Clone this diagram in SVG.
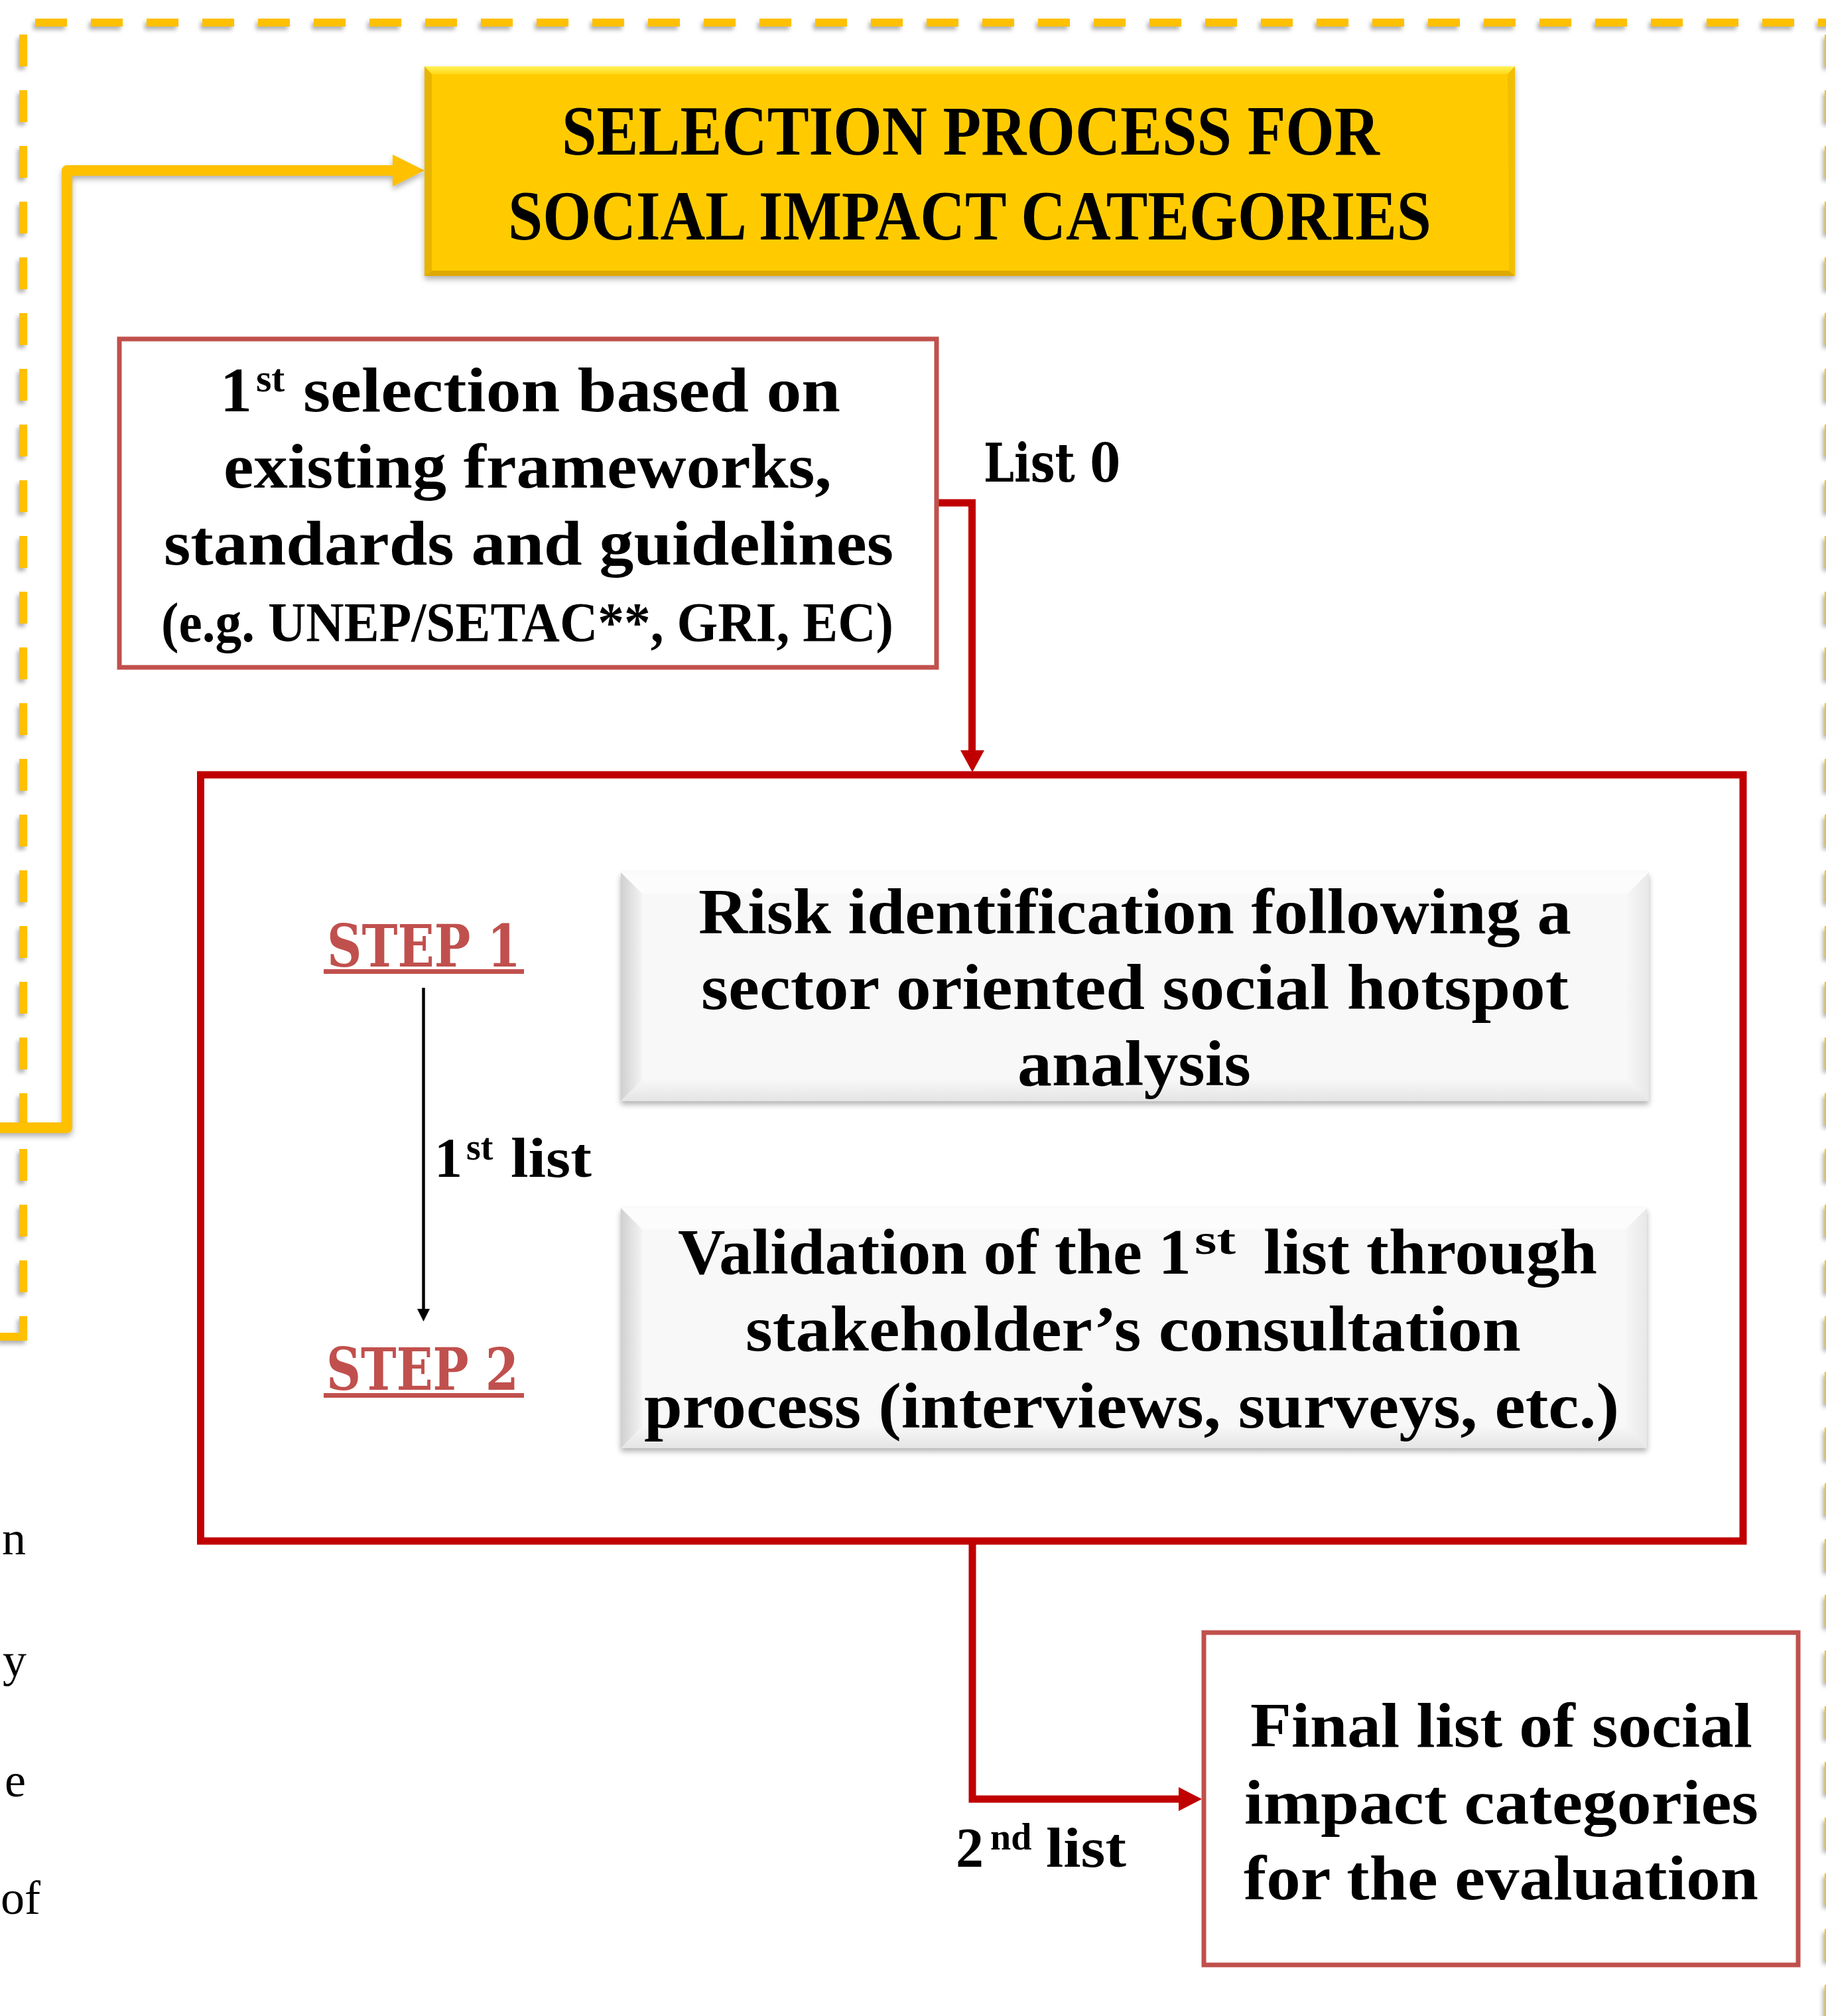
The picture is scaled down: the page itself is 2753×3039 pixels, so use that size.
<svg xmlns="http://www.w3.org/2000/svg" width="2753" height="3039" viewBox="0 0 2753 3039">
<style>
.t{font-family:"Liberation Serif","DejaVu Serif",serif;font-weight:bold;fill:#000}
.d{font-family:"DejaVu Serif","Liberation Serif",serif;font-weight:bold}
.body{font-family:"Liberation Serif","DejaVu Serif",serif;font-size:72px;fill:#000}
.step{fill:#C0504D}
.dash{fill:none;stroke:#FFC000;stroke-width:12;stroke-dasharray:48 36;stroke-dashoffset:66}
.red{fill:none;stroke:#C00000;stroke-width:11}
.redbox{fill:#fff;stroke:#C0504D;stroke-width:7}
</style>
<defs>
<filter id="sh" x="-5%" y="-5%" width="110%" height="115%">
<feDropShadow dx="0" dy="5" stdDeviation="4" flood-color="#000" flood-opacity="0.3"/>
</filter>
<filter id="shd" x="-5%" y="-5%" width="110%" height="110%">
<feDropShadow dx="-3" dy="5" stdDeviation="3" flood-color="#000" flood-opacity="0.3"/>
</filter>
<linearGradient id="gTop" x1="0" y1="0" x2="0" y2="1"><stop offset="0" stop-color="#FFF35A"/><stop offset="1" stop-color="#FFD814"/></linearGradient>
<linearGradient id="gLeftW" x1="0" y1="0" x2="1" y2="0"><stop offset="0" stop-color="#D0D0D0"/><stop offset="1" stop-color="#F3F3F3"/></linearGradient>
<linearGradient id="gBotW" x1="0" y1="0" x2="0" y2="1"><stop offset="0" stop-color="#F7F7F7"/><stop offset="1" stop-color="#E4E4E4"/></linearGradient>
<linearGradient id="gRightW" x1="0" y1="0" x2="1" y2="0"><stop offset="0" stop-color="#F6F6F6"/><stop offset="1" stop-color="#E8E8E8"/></linearGradient>
</defs>

<g id="frame" filter="url(#shd)">
<line class="dash" x1="35" y1="34" x2="2760" y2="34"/>
<line class="dash" x1="35" y1="34" x2="35" y2="2021"/>
<line class="dash" x1="2757" y1="34" x2="2757" y2="3039"/>
<line x1="0" y1="2015" x2="29" y2="2015" stroke="#FFC000" stroke-width="12"/>
</g>

<g id="connectors">
<g filter="url(#sh)">
<path d="M -10 1700 H 101 V 257 H 594" fill="none" stroke="#FFC000" stroke-width="16" stroke-linejoin="round"/>
<polygon points="592,233 592,281 640,257" fill="#FFC000"/>
</g>
<path class="red" d="M 1415 758 H 1465.5 V 1133"/>
<polygon points="1448,1131 1484,1131 1466,1164" fill="#C00000"/>
<path class="red" d="M 1466 2323 V 2712 H 1779"/>
<polygon points="1777,2694 1777,2730 1812,2712" fill="#C00000"/>
<line x1="638.5" y1="1489" x2="638.5" y2="1976" stroke="#000" stroke-width="4.5"/>
<polygon points="629,1973 648,1973 638.5,1992" fill="#000"/>
</g>

<g id="title">
<g filter="url(#sh)">
<rect x="640" y="100" width="1644" height="316" fill="#FFCB05"/>
</g>
<polygon points="640,100 2284,100 2273,112 651,112" fill="url(#gTop)"/>
<polygon points="640,100 651,112 651,408 640,416" fill="#E8B400"/>
<polygon points="640,416 651,408 2275,408 2284,416" fill="#DDA900"/>
<polygon points="2284,100 2284,416 2275,408 2273,112" fill="#F2BE00"/>
<text class="t" x="847" y="233" font-size="106" textLength="1233" lengthAdjust="spacingAndGlyphs">SELECTION PROCESS FOR</text>
<text class="t" x="766" y="361" font-size="106" textLength="1392" lengthAdjust="spacingAndGlyphs">SOCIAL IMPACT CATEGORIES</text>
</g>

<g id="first-selection">
<rect class="redbox" x="180" y="511" width="1232" height="495"/>
<text class="t" x="332" y="620" font-size="96">1</text>
<text class="t" x="386" y="590" font-size="60">st</text>
<text class="t" x="457" y="620" font-size="96" textLength="810" lengthAdjust="spacingAndGlyphs">selection based on</text>
<text class="t" x="337" y="735" font-size="96" textLength="917" lengthAdjust="spacingAndGlyphs">existing frameworks,</text>
<text class="t" x="247" y="851" font-size="96" textLength="1100" lengthAdjust="spacingAndGlyphs">standards and guidelines</text>
<text class="t" x="243" y="967" font-size="84" textLength="1104" lengthAdjust="spacingAndGlyphs">(e.g. UNEP/SETAC**, GRI, EC)</text>
</g>

<g id="list0">
<text class="d" x="1483" y="726" font-size="80" textLength="206" lengthAdjust="spacingAndGlyphs">List 0</text>
</g>

<g id="steps-container">
<rect x="302.5" y="1168" width="2325.5" height="1155" fill="none" stroke="#C00000" stroke-width="11"/>
</g>

<g id="step1-label">
<text class="d step" x="493" y="1457" font-size="88" textLength="292" lengthAdjust="spacingAndGlyphs">STEP 1</text>
<rect x="488" y="1461" width="302" height="7" fill="#C0504D"/>
</g>

<g id="step2-label">
<text class="d step" x="492" y="2095" font-size="88" textLength="290" lengthAdjust="spacingAndGlyphs">STEP 2</text>
<rect x="488" y="2100" width="302" height="7" fill="#C0504D"/>
</g>

<g id="first-list-label">
<text class="t" x="655" y="1774" font-size="84">1</text>
<text class="t" x="703" y="1748" font-size="56">st</text>
<text class="t" x="770" y="1774" font-size="84" textLength="122" lengthAdjust="spacingAndGlyphs">list</text>
</g>

<g id="step1-box">
<rect x="936" y="1315" width="1550" height="345" fill="#F8F8F8" filter="url(#sh)"/>
<polygon points="936,1315 2486,1315 2454,1347 968,1347" fill="#FCFCFC"/>
<polygon points="936,1315 968,1347 968,1628 936,1660" fill="url(#gLeftW)"/>
<polygon points="2486,1315 2486,1660 2454,1628 2454,1347" fill="url(#gRightW)"/>
<polygon points="936,1660 968,1628 2454,1628 2486,1660" fill="url(#gBotW)"/>
<text class="t" x="1053" y="1407" font-size="97" textLength="1316" lengthAdjust="spacingAndGlyphs">Risk identification following a</text>
<text class="t" x="1057" y="1521" font-size="97" textLength="1308" lengthAdjust="spacingAndGlyphs">sector oriented social hotspot</text>
<text class="t" x="1534" y="1636" font-size="97" textLength="352" lengthAdjust="spacingAndGlyphs">analysis</text>
</g>

<g id="step2-box">
<rect x="936" y="1821" width="1547" height="362" fill="#F8F8F8" filter="url(#sh)"/>
<polygon points="936,1821 2483,1821 2451,1853 968,1853" fill="#FCFCFC"/>
<polygon points="936,1821 968,1853 968,2151 936,2183" fill="url(#gLeftW)"/>
<polygon points="2483,1821 2483,2183 2451,2151 2451,1853" fill="url(#gRightW)"/>
<polygon points="936,2183 968,2151 2451,2151 2483,2183" fill="url(#gBotW)"/>
<text class="t" x="1022" y="1920" font-size="97" textLength="774" lengthAdjust="spacingAndGlyphs">Validation of the 1</text>
<text class="t" x="1801" y="1890" font-size="64" textLength="62" lengthAdjust="spacingAndGlyphs">st</text>
<text class="t" x="1905" y="1920" font-size="97" textLength="503" lengthAdjust="spacingAndGlyphs">list through</text>
<text class="t" x="1124" y="2036" font-size="97" textLength="1169" lengthAdjust="spacingAndGlyphs">stakeholder’s consultation</text>
<text class="t" x="971" y="2152" font-size="97" textLength="1470" lengthAdjust="spacingAndGlyphs">process (interviews, surveys, etc.)</text>
</g>

<g id="second-list-label">
<text class="t" x="1441" y="2814" font-size="84">2</text>
<text class="t" x="1493" y="2788" font-size="56">nd</text>
<text class="t" x="1577" y="2814" font-size="84" textLength="121" lengthAdjust="spacingAndGlyphs">list</text>
</g>

<g id="final-list">
<rect class="redbox" x="1815" y="2461" width="896" height="501"/>
<text class="t" x="1885" y="2633" font-size="96" textLength="757" lengthAdjust="spacingAndGlyphs">Final list of social</text>
<text class="t" x="1876" y="2749" font-size="96" textLength="775" lengthAdjust="spacingAndGlyphs">impact categories</text>
<text class="t" x="1875" y="2863" font-size="96" textLength="776" lengthAdjust="spacingAndGlyphs">for the evaluation</text>
</g>

<g id="page-text">
<text class="body" x="39" y="2343" text-anchor="end">n</text>
<text class="body" x="40" y="2527" text-anchor="end">y</text>
<text class="body" x="39" y="2708" text-anchor="end">e</text>
<text class="body" x="1" y="2885">of</text>
</g>
</svg>
